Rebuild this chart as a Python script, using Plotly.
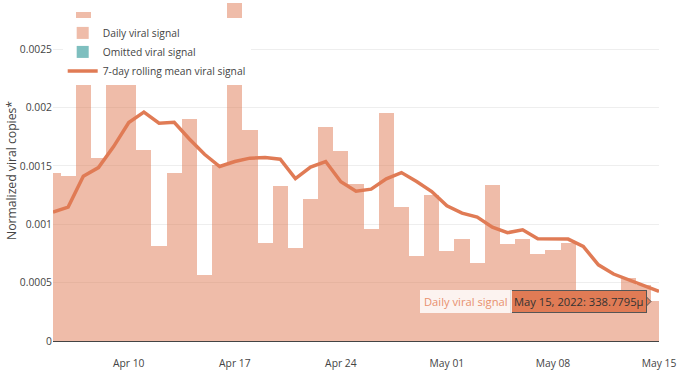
import pandas as pd
import plotly.graph_objects as go

dates = pd.date_range("2022-04-05", "2022-05-15", freq="D")

daily_signal = [
    1.438e-3, 1.418e-3, 2.822e-3, 1.567e-3, 2.28e-3, 2.55e-3, 1.638e-3,
    0.816e-3, 1.438e-3, 1.903e-3, 0.568e-3, 1.504e-3, 2.899e-3, 1.809e-3,
    0.842e-3, 1.324e-3, 0.796e-3, 1.216e-3, 1.835e-3, 1.629e-3, 1.346e-3,
    0.961e-3, 1.952e-3, 1.152e-3, 0.730e-3, 1.253e-3, 0.773e-3, 0.873e-3,
    0.670e-3, 1.338e-3, 0.833e-3, 0.873e-3, 0.745e-3, 0.776e-3, 0.839e-3,
    0.27e-3, 0.24e-3, 0.28e-3, 0.539e-3, 0.482e-3, 338.7795e-6,
]

rolling_mean = [
    1.104e-3, 1.147e-3, 1.412e-3, 1.486e-3, 1.666e-3, 1.872e-3, 1.961e-3,
    1.866e-3, 1.874e-3, 1.731e-3, 1.600e-3, 1.495e-3, 1.538e-3, 1.567e-3,
    1.572e-3, 1.558e-3, 1.391e-3, 1.490e-3, 1.538e-3, 1.365e-3, 1.284e-3,
    1.301e-3, 1.390e-3, 1.443e-3, 1.366e-3, 1.281e-3, 1.158e-3, 1.096e-3,
    1.062e-3, 0.976e-3, 0.928e-3, 0.953e-3, 0.876e-3, 0.876e-3, 0.873e-3,
    0.810e-3, 0.653e-3, 0.574e-3, 0.525e-3, 0.482e-3, 0.425e-3,
]

# no omitted samples are visible in the window; keep a placeholder entry
omitted_dates = ["2022-05-15"]
omitted_signal = [None]

tick_vals = ["2022-04-10", "2022-04-17", "2022-04-24", "2022-05-01", "2022-05-08", "2022-05-15"]

hover_date = "2022-05-15"
hover_value = 338.7795e-6
hover_text = "May 15, 2022: 338.7795µ"
hover_name = "Daily viral signal"

MAIN = "#E07B55"
FONT = "Open Sans, verdana, arial, sans-serif"

fig = go.Figure()
fig.add_trace(go.Bar(
    x=dates, y=daily_signal, name="Daily viral signal",
    marker=dict(color=MAIN, line=dict(width=0)), opacity=0.5,
))
fig.add_trace(go.Bar(
    x=omitted_dates, y=omitted_signal, name="Omitted viral signal",
    marker=dict(color="teal", line=dict(width=0)), opacity=0.5,
    showlegend=True,
))
fig.add_trace(go.Scatter(
    x=dates, y=rolling_mean, name="7-day rolling mean viral signal",
    mode="lines", line=dict(color=MAIN, width=3.5),
))

# static replica of the hover label
fig.add_annotation(
    x=hover_date, y=hover_value, xref="x", yref="y",
    text=hover_text, showarrow=False, xanchor="right", yanchor="middle",
    xshift=-12.5, bgcolor=MAIN, bordercolor="#555", borderwidth=1, borderpad=3,
    font=dict(family=FONT, size=11.2, color="#333"),
)
fig.add_annotation(
    x=hover_date, y=hover_value, xref="x", yref="y",
    text=hover_name, showarrow=False, xanchor="right", yanchor="middle",
    xshift=-147, bgcolor="rgba(255,255,255,0.82)", borderwidth=0, borderpad=4,
    font=dict(family=FONT, size=11.2, color="#E8906E"),
)
fig.add_shape(
    type="path", xref="x", yref="y", xsizemode="pixel", ysizemode="pixel",
    xanchor=hover_date, yanchor=hover_value,
    path="M -13 -5 L -8 0 L -13 5 Z",
    fillcolor=MAIN, line=dict(color="#555", width=1),
)

fig.update_layout(
    width=678, height=371,
    margin=dict(l=53, r=19, t=0, b=30),
    plot_bgcolor="white", paper_bgcolor="white",
    bargap=0, barmode="overlay",
    font=dict(family=FONT, size=10.3, color="#444"),
    showlegend=True,
    legend=dict(
        x=0.016, y=0.946, xanchor="left", yanchor="top",
        bgcolor="white", font=dict(size=10.3, color="#444"),
        traceorder="normal", tracegroupgap=0,
    ),
    hovermode="x",
)
fig.update_xaxes(
    type="date", range=["2022-04-05", "2022-05-15"],
    tickvals=tick_vals, tickformat="%b %d",
    showgrid=False, showline=True, linecolor="#444", linewidth=1,
    ticks="outside", ticklen=13, tickcolor="rgba(0,0,0,0)",
    tickfont=dict(size=10.3, color="#444"), zeroline=False,
)
fig.update_yaxes(
    range=[0, 0.002922], dtick=0.0005, tick0=0,
    showgrid=True, gridcolor="#eee", zeroline=False,
    tickfont=dict(size=10.3, color="#444"), automargin=True,
    title=dict(text="Normalized viral copies*", font=dict(size=12.2, color="#444"), standoff=0),
)

fig.write_html(
    "out.html",
    config={"displayModeBar": False},
    post_script="document.body.style.margin='0';",
)
